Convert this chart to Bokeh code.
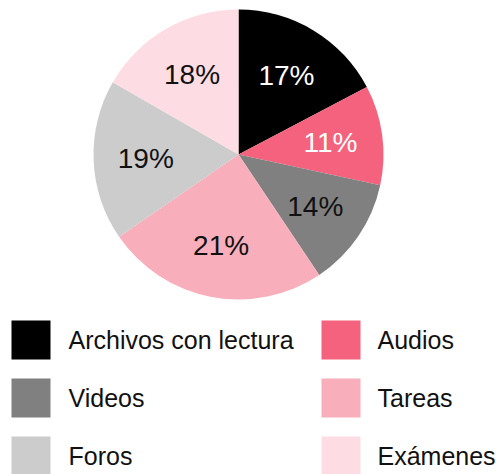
import math
from bokeh.plotting import figure
from bokeh.models import Range1d, ColumnDataSource
from bokeh.core.properties import value
from bokeh.embed import file_html
from bokeh.resources import INLINE

# ---- data ----
categories = ["Archivos con lectura", "Audios", "Videos", "Tareas", "Foros", "Exámenes"]
# printed labels
label_pct = [17, 11, 14, 21, 19, 18]
# slice sizes as drawn in the picture (share of the circle, %)
slice_share = [17.3, 11.1, 12.2, 24.8, 17.9, 16.7]
colors = ["#000000", "#f4627d", "#808080", "#f8afbb", "#cccccc", "#fddde3"]
label_colors = ["#ffffff", "#ffffff", "#111111", "#111111", "#111111", "#111111"]

# ---- layout (data units == screen pixels, y up) ----
W, H = 496, 474
FONT = "Liberation Sans"
cx, cy, R = 238, H - 154, 145
r_label = 0.64 * R

p = figure(width=W, height=H, output_backend="svg", toolbar_location=None,
           x_range=Range1d(0, W), y_range=Range1d(0, H), min_border=0)
p.axis.visible = False
p.grid.visible = False
p.outline_line_color = None
p.background_fill_color = "white"
p.border_fill_color = "white"

total = float(sum(slice_share))
starts, ends, lx, ly, labels = [], [], [], [], []
cum = 0.0
for v, lab in zip(slice_share, label_pct):
    a0 = math.pi / 2 - 2 * math.pi * cum / total
    cum += v
    a1 = math.pi / 2 - 2 * math.pi * cum / total
    starts.append(a0)
    ends.append(a1)
    mid = (a0 + a1) / 2
    lx.append(cx + r_label * math.cos(mid))
    ly.append(cy + r_label * math.sin(mid))
    labels.append(f"{lab}%")

src = ColumnDataSource(dict(start=starts, end=ends, color=colors, lx=lx, ly=ly,
                            label=labels, tcolor=label_colors))
p.wedge(x=cx, y=cy, radius=R, start_angle="start", end_angle="end",
        direction="clock", fill_color="color", line_color=None, source=src)
p.text(x="lx", y="ly", text="label", text_color="tcolor", source=src,
       text_font=value(FONT), text_font_size="28px",
       text_align="center", text_baseline="middle")

# ---- legend (2 columns, row-major) ----
sq = 39
x0_sq, x0_txt, col_sq_pitch, col_txt_pitch = 11, 68, 310, 309
y0, row_pitch = H - 339.5, 58
lsx, lsy, ltx = [], [], []
for i in range(len(categories)):
    col, row = i % 2, i // 2
    lsx.append(x0_sq + sq / 2 + col * col_sq_pitch)
    ltx.append(x0_txt + col * col_txt_pitch)
    lsy.append(y0 - row * row_pitch)
lsrc = ColumnDataSource(dict(x=lsx, y=lsy, tx=ltx, name=categories, color=colors))
p.rect(x="x", y="y", width=sq, height=sq, fill_color="color", line_color=None, source=lsrc)
p.text(x="tx", y="y", text="name", source=lsrc, text_color="#111111",
       text_font=value(FONT), text_font_size="25px",
       text_align="left", text_baseline="middle")

open("out.html", "w").write(file_html(p, INLINE))
